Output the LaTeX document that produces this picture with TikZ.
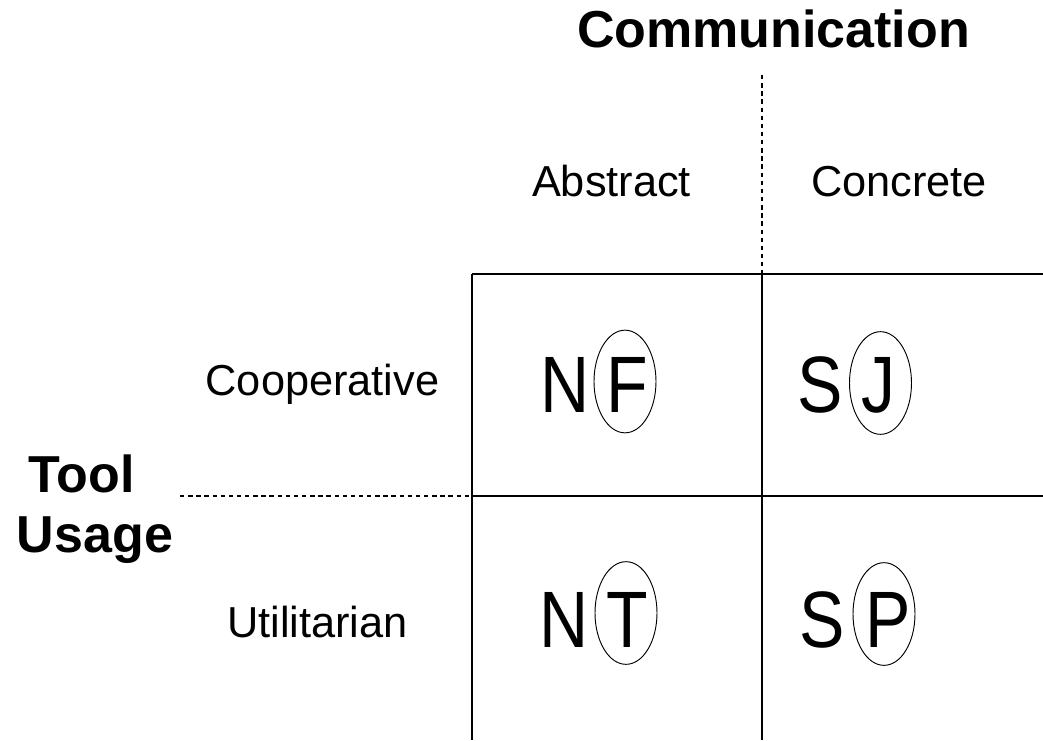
\documentclass[tikz,border=0pt]{standalone}
\usepackage{fontspec}
\setmainfont{Liberation Sans}
\usetikzlibrary{shapes.geometric}
\newcommand{\narrowletter}[1]{\scalebox{0.85}[1]{#1}}
\begin{document}
\begin{tikzpicture}[x=0.75pt,y=-0.75pt,
  axislabel/.style={font=\fontsize{39}{44}\selectfont\bfseries, anchor=base, inner sep=0},
  catlabel/.style={font=\fontsize{32.5}{38}\selectfont, anchor=base, inner sep=0},
  bigletter/.style={font=\fontsize{60}{66}\selectfont, anchor=base, inner sep=0},
  ring/.style={ellipse, draw, line width=0.7pt, inner sep=0, minimum width=46.5pt, minimum height=77pt},
  gridline/.style={line width=1.1pt},
  dashline/.style={line width=0.9pt, dash pattern=on 3.3pt off 2.8pt}]
\useasboundingbox (0,0) rectangle (1043,740);
\fill[white] (0,0) rectangle (1043,740);
% grid coordinates
\coordinate (gtl) at (472,274);
\coordinate (gtm) at (762,274);
\coordinate (gtr) at (1043,274);
\coordinate (gml) at (472,496);
\coordinate (gmr) at (1043,496);
\coordinate (gbl) at (472,740);
\coordinate (gbm) at (762,740);
\coordinate (vtop) at (762,75);
\coordinate (hleft) at (180,496);
% grid
\draw[gridline] (gtl) -- (gtr);
\draw[gridline] (gtl) -- (gbl);
\draw[gridline] (gtm) -- (gbm);
\draw[gridline] (gml) -- (gmr);
% dashed axes
\draw[dashline] (vtop) -- (gtm);
\draw[dashline] (hleft) -- (gml);
% axis titles
\node[axislabel] (comm) at (773.5,47) {Communication};
\node[axislabel] (tool) at (81.5,492) {Tool};
\node[axislabel] (usage) at (95,552) {Usage};
% category labels
\node[catlabel] (abs) at (611.5,196) {Abstract};
\node[catlabel] (con) at (899,196) {Concrete};
\node[catlabel] (coop) at (322.5,395) {Cooperative};
\node[catlabel] (util) at (317.5,637) {Utilitarian};
% cells
\node[bigletter] (n1) at (565,412) {\narrowletter{N}};
\node[bigletter] (f1) at (627,412) {\narrowletter{F}};
\node[ring] (rf1) at (625,381.5) {};
\node[bigletter] (s1) at (820,412) {\narrowletter{S}};
\node[bigletter] (j1) at (878,412) {\narrowletter{J}};
\node[ring] (rj1) at (880.5,383) {};
\node[bigletter] (n2) at (564,647) {\narrowletter{N}};
\node[bigletter] (t2) at (627,647) {\narrowletter{T}};
\node[ring] (rt2) at (626,613) {};
\node[bigletter] (s2) at (822.5,647) {\narrowletter{S}};
\node[bigletter] (p2) at (888,647) {\narrowletter{P}};
\node[ring] (rp2) at (884,614) {};
\end{tikzpicture}
\end{document}
